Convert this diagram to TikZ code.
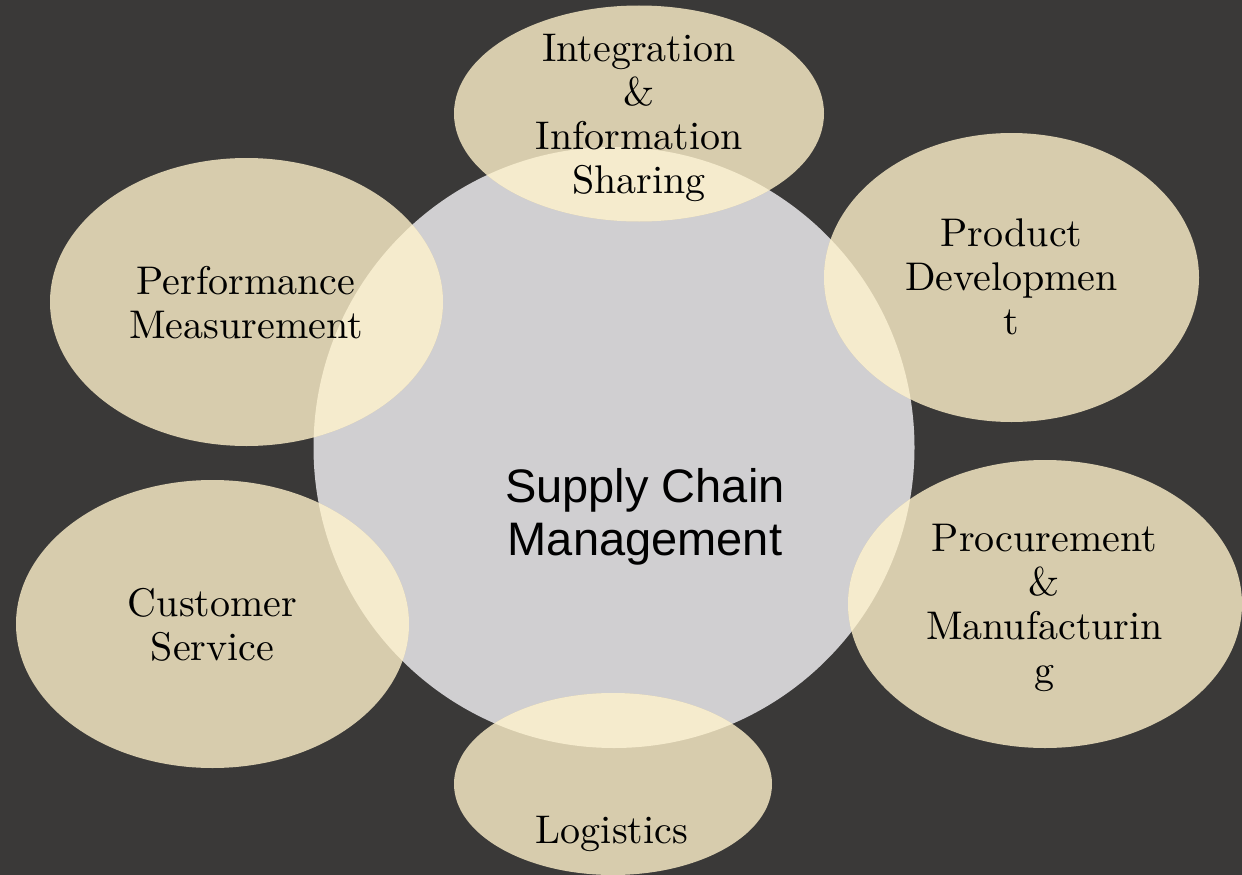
\documentclass[tikz,border=0pt]{standalone}
\usepackage{fontspec}
\newfontfamily\hubfont{Liberation Sans}
\newfontfamily\blobfont{lmroman10-regular.otf}
\usetikzlibrary{shapes.geometric}
\definecolor{bgcol}{HTML}{3A3938}
\definecolor{hubcol}{HTML}{D0CFD1}
\definecolor{blobcol}{HTML}{D7CCAD}
\definecolor{overcol}{HTML}{F5EBCD}
\begin{document}
\begin{tikzpicture}[x=1pt,y=-1pt,
  blob/.style={ellipse,fill=blobcol,draw=none,inner sep=0pt,outer sep=0pt},
  lbl/.style={align=center,font=\blobfont\fontsize{40}{44}\selectfont,text=black,inner sep=0pt,outer sep=0pt},
  hublbl/.style={align=center,font=\hubfont\fontsize{47}{53}\selectfont,text=black,inner sep=0pt,outer sep=0pt}]
\useasboundingbox (0,0) rectangle (1242,875);
\fill[bgcol] (0,0) rectangle (1242,875);
% central circle
\node[circle,fill=hubcol,draw=none,inner sep=0pt,minimum size=601pt] (scm) at (614,447.5) {};
% satellite ellipses
\node[blob,minimum width=370pt,minimum height=216pt] (e1) at (639,113.5) {};
\node[blob,minimum width=375pt,minimum height=289pt] (e2) at (1011.5,277.5) {};
\node[blob,minimum width=394pt,minimum height=288pt] (e3) at (1045,604) {};
\node[blob,minimum width=318pt,minimum height=182pt] (e4) at (613,784) {};
\node[blob,minimum width=393pt,minimum height=288pt] (e5) at (212.5,624) {};
\node[blob,minimum width=393pt,minimum height=288pt] (e6) at (246.5,302) {};
% overlaps
\begin{scope}
  \clip (scm.center) circle[radius=300.5];
  \fill[overcol] (e1.center) ellipse[x radius=185,y radius=108];
  \fill[overcol] (e2.center) ellipse[x radius=187.5,y radius=144.5];
  \fill[overcol] (e3.center) ellipse[x radius=197,y radius=144];
  \fill[overcol] (e4.center) ellipse[x radius=159,y radius=91];
  \fill[overcol] (e5.center) ellipse[x radius=196.5,y radius=144];
  \fill[overcol] (e6.center) ellipse[x radius=196.5,y radius=144];
\end{scope}
% labels
\node[hublbl] (thub) at (645,516.6) {Supply Chain\\Management};
\node[lbl] (t1) at (639,118.2) {Integration\\\&\\Information\\Sharing};
\node[lbl] (t2) at (1011.5,277.3) {Product\\Developmen\\t};
\node[lbl] (t3) at (1044.5,608.2) {Procurement\\\&\\Manufacturin\\g};
\node[lbl,anchor=base] (t4) at (612,843) {Logistics};
\node[lbl] (t5) at (212.5,624.9) {Customer\\Service};
\node[lbl] (t6) at (246,303.1) {Performance\\Measurement};
\end{tikzpicture}
\end{document}
